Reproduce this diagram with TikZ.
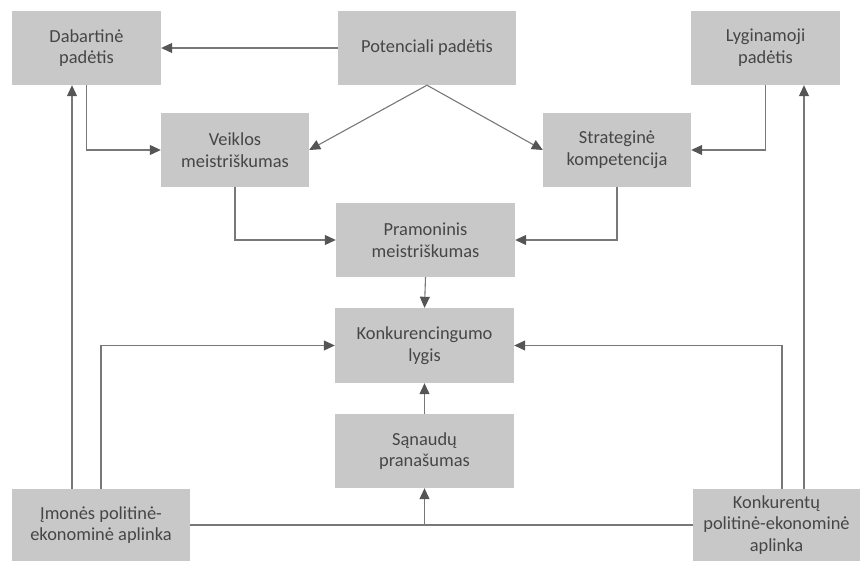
\documentclass[tikz,border=0pt]{standalone}
\usepackage{fontspec}
\setmainfont{Carlito}
\usetikzlibrary{arrows.meta}
\definecolor{boxfill}{RGB}{200,200,200}
\definecolor{txt}{RGB}{70,70,70}
\definecolor{ln}{RGB}{120,120,120}
\definecolor{tip}{RGB}{85,85,85}
\begin{document}
\begin{tikzpicture}[x=1pt,y=-1pt,
  box/.style={rectangle,fill=boxfill,draw=none,align=center,text=txt,
    font=\fontsize{18.4}{21.7}\selectfont,inner sep=0pt},
  conn/.style={draw=ln,line width=1.1pt},
  arr/.style={conn,-{Triangle[length=11pt,width=10pt,fill=tip,color=tip]}}]
\useasboundingbox (0,0) rectangle (860,561);
\node[box,minimum width=149pt,minimum height=74pt] (dab) at (86.5,48) {Dabartinė\\padėtis};
\node[box,minimum width=178pt,minimum height=74pt] (pot) at (427,48) {Potenciali padėtis};
\node[box,minimum width=149pt,minimum height=74pt] (lyg) at (765.5,48) {Lyginamoji\\padėtis};
\node[box,minimum width=148pt,minimum height=74pt] (vei) at (235,150) {Veiklos\\meistriškumas};
\node[box,minimum width=148pt,minimum height=74pt] (str) at (617,150) {Strateginė\\kompetencija};
\node[box,minimum width=179pt,minimum height=74pt] (pra) at (425.5,240) {Pramoninis\\meistriškumas};
\node[box,minimum width=179pt,minimum height=75pt] (kon) at (424.5,345.5) {Konkurencingumo\\lygis};
\node[box,minimum width=179pt,minimum height=74pt] (san) at (424.5,451) {Sąnaudų\\pranašumas};
\node[box,minimum width=178pt,minimum height=72pt] (imo) at (101,525) {Įmonės politinė-\\ekonominė aplinka};
\node[box,minimum width=167pt,minimum height=72pt] (konk) at (776.5,525) {Konkurentų\\politinė-ekonominė\\aplinka};
% connectors
\draw[arr] (pot.west) -- (dab.east);
\draw[arr] (pot.south) -- (vei.east);
\draw[arr] (pot.south) -- (str.west);
\draw[arr] (dab.south) |- (vei.west);
\draw[arr] (lyg.south) |- (str.east);
\draw[arr] (vei.south) |- (pra.west);
\draw[arr] (str.south) |- (pra.east);
\draw[arr] (pra.south) -- (kon.north);
\draw[arr] (san.north) -- (kon.south);
\draw[arr] (imo.north) |- (kon.west);
\draw[arr] ([xshift=-29pt]imo.north) -- ([xshift=-29pt]imo.north |- dab.south);
\draw[arr] ([xshift=5.5pt]konk.north) |- (kon.east);
\draw[arr] ([xshift=27.5pt]konk.north) -- ([xshift=27.5pt]konk.north |- lyg.south);
\draw[conn] (imo.east) -- (konk.west);
\coordinate (mid) at (san.south |- imo.east);
\draw[arr] (mid) -- (san.south);
\end{tikzpicture}
\end{document}
